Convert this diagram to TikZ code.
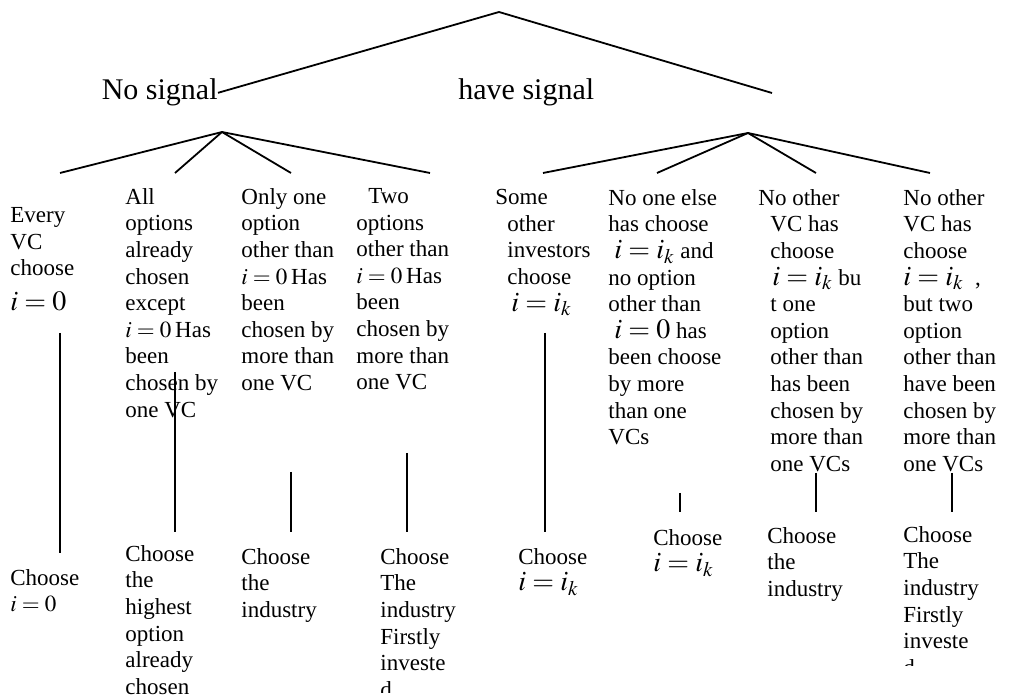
\documentclass[tikz,border=0pt]{standalone}
\usepackage{mathptmx}
\usepackage{fontspec}
\setmainfont{Liberation Serif}
\newcommand{\bmath}[1]{{\fontsize{14}{13.3}\selectfont$#1$}}
\newcommand{\indt}{\hspace*{6pt}}

\begin{document}
\begin{tikzpicture}[x=0.5pt,y=-0.5pt,
  signal/.style={inner sep=0pt,font=\fontsize{15}{18}\selectfont},
  cell/.style={anchor=north west,inner sep=0pt,align=left,font=\fontsize{11.5}{13.3}\selectfont},
  branch/.style={line width=0.9pt}]
\useasboundingbox (0,0) rectangle (1013,699);

% first split
\coordinate (root) at (499,12);
\node[signal,anchor=base east] (nosig) at (218,100) {No signal};
\node[signal,anchor=base west] (hasig) at (458,100) {have signal};
\coordinate (hasend) at (772,93);
\draw[branch] (nosig.east) -- (root) -- (hasend);

% second split
\coordinate (lapex) at (222,132);
\coordinate (na) at (60,173);
\coordinate (nb) at (175,173);
\coordinate (nc) at (291,173);
\coordinate (nd) at (430,173);
\coordinate (rapex) at (748,133);
\coordinate (ha) at (543,173);
\coordinate (hb) at (657,173);
\coordinate (hc) at (816,173);
\coordinate (hd) at (930,173);
\foreach \n in {na,nb,nc,nd} \draw[branch] (lapex) -- (\n);
\foreach \n in {ha,hb,hc,hd} \draw[branch] (rapex) -- (\n);

% cases
\node[cell] (c1) at (10,207) {Every\\VC\\choose\\[4pt]\bmath{i=0}};
\node[cell] (c2) at (125,188) {All\\options\\already\\chosen\\except\\$i=0$\,Has\\been\\chosen by\\one VC};
\node[cell] (c3) at (241,188) {Only one\\option\\other than\\$i=0$\,Has\\been\\chosen by\\more than\\one VC};
\node[cell] (c4) at (356,188) {\indt Two\\options\\other than\\$i=0$\,Has\\been\\chosen by\\more than\\one VC};
\node[cell] (c5) at (495,189) {Some\\\indt other\\\indt investors\\\indt choose\\\hspace*{8pt}\bmath{i=i_k}};
\node[cell] (c6) at (608,189) {No one else\\has choose\\\hspace*{3pt}\bmath{i=i_k} and\\no option\\other than\\\hspace*{3pt}\bmath{i=0} has\\been choose\\by more\\than one\\VCs};
\node[cell] (c7) at (758,189) {No other\\\indt VC has\\\indt choose\\\hspace*{7pt}\bmath{i=i_k} bu\\\indt t one\\\indt option\\\indt other than\\\indt has been\\\indt chosen by\\\indt more than\\\indt one VCs};
\node[cell] (c8) at (903,189) {No other\\VC has\\choose\\\bmath{i=i_k}\ \ ,\\but two\\option\\other than\\have been\\chosen by\\more than\\one VCs};

% choices
\node[cell] (b1) at (10,569) {Choose\\$i=0$};
\node[cell] (b2) at (125,545) {Choose\\the\\highest\\option\\already\\chosen};
\node[cell] (b3) at (241,548) {Choose\\the\\industry};
\begin{scope}
\clip (0,0) rectangle (1013,693);
\node[cell] (b4) at (380,548) {Choose\\The\\industry\\Firstly\\investe\\d};
\end{scope}
\node[cell] (b5) at (518,548) {Choose\\\bmath{i=i_k}};
\node[cell] (b6) at (653,529) {Choose\\\bmath{i=i_k}};
\node[cell] (b7) at (767,527) {Choose\\the\\industry};
\begin{scope}
\clip (0,0) rectangle (1013,666);
\node[cell] (b8) at (903,526) {Choose\\The\\industry\\Firstly\\investe\\d};
\end{scope}

% links
\coordinate (v1a) at (60,333);  \coordinate (v1b) at (60,553);
\coordinate (v2a) at (175,372); \coordinate (v2b) at (175,532);
\coordinate (v3a) at (291,472); \coordinate (v3b) at (291,532);
\coordinate (v4a) at (407,453); \coordinate (v4b) at (407,532);
\coordinate (v5a) at (545,333); \coordinate (v5b) at (545,532);
\coordinate (v6a) at (680,493); \coordinate (v6b) at (680,512);
\coordinate (v7a) at (816,473); \coordinate (v7b) at (816,512);
\coordinate (v8a) at (952,473); \coordinate (v8b) at (952,512);
\foreach \k in {1,...,8} \draw[branch] (v\k a) -- (v\k b);
\end{tikzpicture}
\end{document}
